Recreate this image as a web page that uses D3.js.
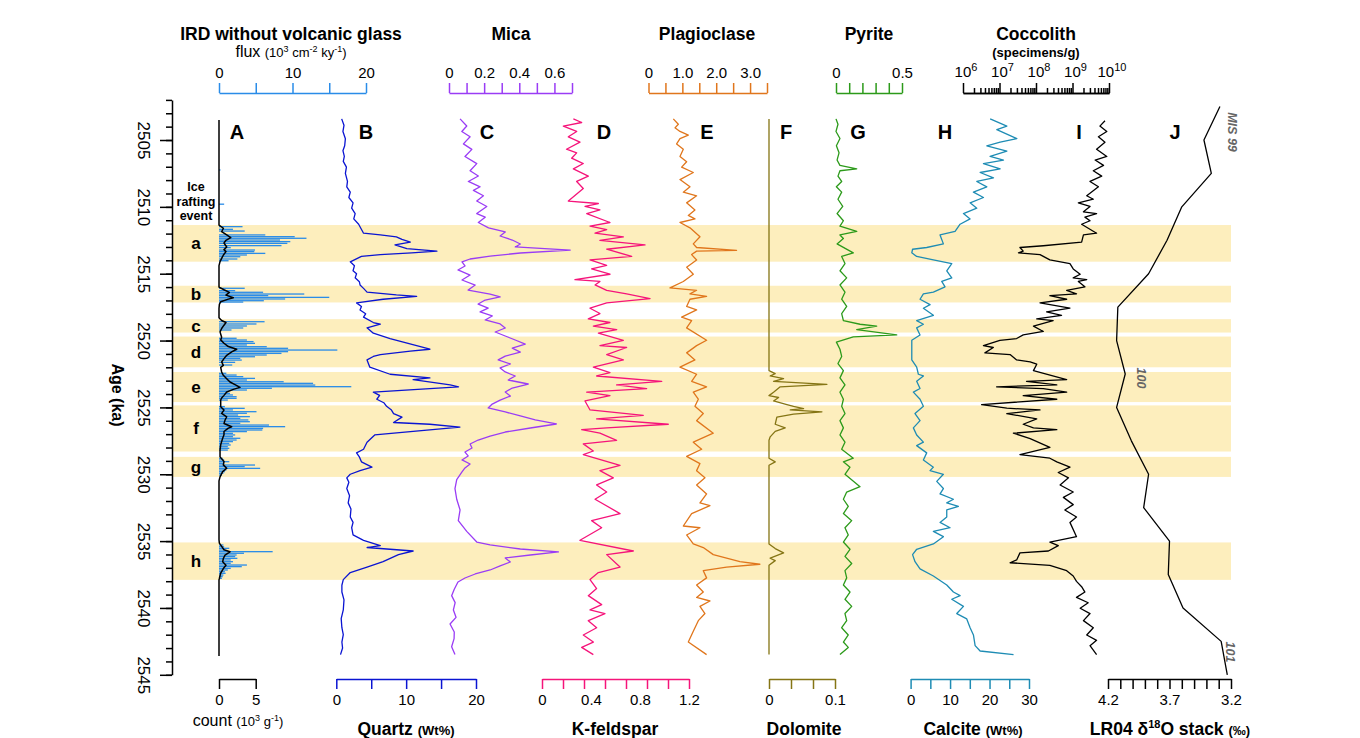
<!DOCTYPE html>
<html>
<head>
<meta charset="utf-8">
<script src="https://cdn.jsdelivr.net/npm/d3@7"></script>
<style>
  body { margin: 0; background: #fff; }
  text { font-family: "Liberation Sans", Arial, Helvetica, sans-serif; }
</style>
</head>
<body>
<div id="chart"></div>
<script>
// ice rafting events (ka)
var eventNames = ["a", "b", "c", "d", "e", "f", "g", "h"];
var eventTop = [2511.36, 2515.9, 2518.4, 2519.7, 2522.35, 2524.85, 2528.7, 2535.1];
var eventBottom = [2514.1, 2517.15, 2519.4, 2522.0, 2524.6, 2528.3, 2530.2, 2537.9];

// A: IRD flux bars (age, 10^3 cm-2 ky-1)
var irdAge = [2507.24, 2509.8,
  2511.48, 2511.68, 2511.81, 2512.1, 2512.23, 2512.35, 2512.48, 2512.6, 2512.73, 2512.9, 2513.05, 2513.23, 2513.35, 2513.48, 2513.6, 2513.73, 2513.9, 2514.03,
  2516.09, 2516.27, 2516.39, 2516.52, 2516.64, 2516.77, 2516.89, 2517.02, 2517.12,
  2518.59, 2518.76, 2518.91, 2519.06, 2519.21,
  2519.83, 2519.96, 2520.08, 2520.21, 2520.33, 2520.46, 2520.58, 2520.71, 2520.83, 2520.96, 2521.08, 2521.21, 2521.33, 2521.46, 2521.63, 2521.83,
  2522.45, 2522.58, 2522.7, 2522.83, 2522.95, 2523.08, 2523.2, 2523.33, 2523.45, 2523.57, 2523.7, 2523.82, 2523.95, 2524.07, 2524.2, 2524.32, 2524.45,
  2524.94, 2525.07, 2525.19, 2525.32, 2525.44, 2525.57, 2525.69, 2525.82, 2525.94, 2526.07, 2526.19, 2526.32, 2526.44, 2526.57, 2526.69, 2526.81, 2526.94, 2527.06, 2527.19, 2527.31, 2527.44, 2527.56, 2527.69, 2527.81, 2527.94, 2528.06, 2528.19,
  2528.81, 2528.93, 2529.06, 2529.18, 2529.31, 2529.43, 2529.56, 2529.68, 2529.81, 2529.93, 2530.06,
  2535.29, 2535.42, 2535.54, 2535.67, 2535.79, 2535.91, 2536.04, 2536.16, 2536.29, 2536.41, 2536.54, 2536.66, 2536.79, 2536.91, 2537.04, 2537.16, 2537.29, 2537.41, 2537.54, 2537.66, 2537.78];
var irdFlux = [0.2, 0.7,
  3.2, 1.9, 3.5, 6.3, 10.3, 11.9, 8.3, 9.7, 9.3, 8.5, 1.6, 4.9, 4.8, 6.3, 3.8, 2.9, 2.5, 1.3,
  3.5, 2.2, 6.0, 11.6, 6.7, 15.0, 9.0, 6.1, 3.3,
  6.2, 5.1, 3.8, 3.3, 1.7,
  2.4, 3.8, 4.7, 4.9, 3.8, 6.5, 9.4, 16.1, 9.4, 8.5, 6.5, 4.9, 2.9, 3.1, 2.2, 1.8,
  1.0, 2.4, 3.3, 4.9, 3.8, 8.8, 12.8, 13.1, 18.0, 7.2, 3.8, 1.2, 1.5, 1.9, 2.4, 2.4, 1.2,
  0.8, 3.5, 1.9, 5.1, 3.8, 2.6, 4.2, 2.9, 4.0, 4.2, 2.9, 6.8, 9.0, 6.0, 5.9, 3.8, 1.9, 2.2, 1.9, 2.9, 2.4, 1.9, 1.4, 1.6, 1.2, 1.4, 1.2,
  0.5, 0.7, 1.4, 0.6, 4.9, 3.5, 5.6, 1.0, 0.8, 0.6, 0.4,
  0.6, 0.7, 1.4, 0.8, 7.3, 3.4, 2.4, 2.2, 2.5, 1.6, 1.9, 1.6, 3.8, 3.1, 1.6, 1.2, 0.8, 0.9, 0.6, 0.5, 0.4];

// A: IRD count (age, 10^3 g-1)
var irdCount = [[2503.5,0],[2511.36,0],[2511.6,0.6],[2511.86,0.36],[2512.1,1.05],[2512.3,1.6],[2512.5,0.95],[2512.7,0.68],[2513.0,1.05],[2513.2,0.68],[2513.35,0.95],[2513.6,0.6],[2513.85,0.36],[2514.1,0.14],[2514.4,0],[2515.8,0],[2516.0,0],[2516.2,0.68],[2516.4,1.41],[2516.6,0.95],[2516.8,1.95],[2516.9,1.27],[2517.1,0.23],[2517.3,0.05],[2517.6,0],[2518.3,0],[2518.5,0.36],[2518.65,0.95],[2518.85,0.68],[2519.1,0.36],[2519.35,0.14],[2519.75,0.36],[2519.95,0.23],[2520.2,0.68],[2520.45,1.27],[2520.65,2.41],[2520.85,1.73],[2521.1,1.05],[2521.35,0.68],[2521.6,0.36],[2521.85,0.59],[2522.0,0.23],[2522.35,0.36],[2522.6,0.59],[2522.85,1.05],[2523.1,1.5],[2523.3,2.18],[2523.5,2.86],[2523.65,1.95],[2523.85,1.05],[2524.1,0.68],[2524.3,0.36],[2524.45,0.23],[2524.95,0.23],[2525.2,0.68],[2525.45,0.36],[2525.7,1.05],[2525.95,0.82],[2526.2,0.68],[2526.45,1.73],[2526.55,1.27],[2526.8,0.68],[2527.05,0.68],[2527.3,0.5],[2527.55,0.36],[2527.8,0.23],[2528.2,0.14],[2528.7,0.14],[2529.05,0.68],[2529.3,0.59],[2529.55,1.05],[2529.8,0.5],[2530.2,0.14],[2530.5,0],[2534.9,0],[2535.15,0.05],[2535.4,0.36],[2535.65,0.68],[2535.8,1.5],[2536.05,0.82],[2536.3,0.59],[2536.55,0.5],[2536.8,0.95],[2537.05,0.59],[2537.4,0.23],[2537.8,0.05],[2537.9,0],[2543.6,0]];

// B: quartz (wt%)
var quartz = [[2503.42,0.77],[2503.9,1.1],[2504.36,0.95],[2504.9,1.3],[2505.43,1.2],[2505.8,0.95],[2506.23,1.15],[2506.6,1.0],[2507.03,1.45],[2507.5,1.3],[2508.1,1.6],[2508.5,1.5],[2508.9,2.0],[2509.3,1.8],[2509.7,2.4],[2510.1,2.2],[2510.5,2.7],[2510.9,2.5],[2511.3,3.2],[2511.97,3.9],[2512.1,6.3],[2512.24,8.6],[2512.43,9.4],[2512.64,10.6],[2512.85,8.4],[2513.12,10.1],[2513.31,14.4],[2513.44,10.8],[2513.57,6.3],[2513.71,3.6],[2514.11,2.0],[2514.4,2.6],[2514.78,2.4],[2515.0,2.9],[2515.31,2.7],[2515.6,3.3],[2515.84,3.4],[2516.1,3.9],[2516.38,4.4],[2516.59,8.6],[2516.7,11.5],[2516.91,6.7],[2517.18,2.9],[2517.45,3.6],[2517.71,3.4],[2518.0,4.2],[2518.25,3.9],[2518.65,5.3],[2518.78,6.3],[2519.05,4.4],[2519.45,5.3],[2519.85,7.7],[2520.12,9.6],[2520.65,13.4],[2520.79,10.6],[2521.05,6.3],[2521.19,5.3],[2521.45,4.4],[2521.99,4.8],[2522.52,7.7],[2522.79,13.4],[2522.92,11.0],[2523.32,16.3],[2523.46,17.5],[2523.59,13.4],[2523.86,5.3],[2524.1,6.2],[2524.39,5.8],[2524.65,6.8],[2524.92,7.2],[2525.2,7.9],[2525.46,8.2],[2525.73,9.4],[2526.13,8.2],[2526.26,13.4],[2526.47,17.7],[2526.79,11.0],[2527.06,5.5],[2527.6,4.4],[2528.13,3.9],[2528.4,2.9],[2528.7,3.3],[2529.07,3.6],[2529.47,5.1],[2529.73,3.4],[2530.0,2.0],[2530.27,1.5],[2530.6,1.8],[2531.07,1.5],[2531.6,1.9],[2532.14,1.7],[2532.6,2.1],[2533.2,2.0],[2533.6,2.4],[2534.0,2.2],[2534.54,2.4],[2534.94,3.9],[2535.34,6.3],[2535.48,4.4],[2535.74,11.0],[2536.01,8.9],[2536.54,6.7],[2536.94,4.4],[2537.35,2.0],[2537.88,1.0],[2538.3,0.8],[2538.81,0.8],[2539.4,1.1],[2540.15,1.0],[2540.8,0.7],[2541.48,0.8],[2542.0,1.0],[2542.55,0.8],[2543.0,0.9],[2543.49,0.6]];

// C: mica
var mica = [[2503.42,0.063],[2503.95,0.101],[2504.36,0.073],[2504.76,0.12],[2505.29,0.082],[2505.7,0.13],[2506.23,0.091],[2506.77,0.158],[2507.3,0.12],[2507.69,0.167],[2508.1,0.11],[2508.5,0.177],[2508.77,0.139],[2509.17,0.196],[2509.56,0.158],[2509.97,0.215],[2510.5,0.158],[2510.77,0.206],[2511.17,0.167],[2511.57,0.225],[2511.88,0.32],[2512.18,0.291],[2512.48,0.36],[2512.78,0.406],[2513.0,0.377],[2513.23,0.69],[2513.45,0.406],[2513.68,0.234],[2513.9,0.12],[2514.12,0.074],[2514.42,0.091],[2514.72,0.051],[2515.1,0.12],[2515.47,0.074],[2515.85,0.149],[2516.22,0.109],[2516.52,0.234],[2516.74,0.291],[2516.97,0.206],[2517.27,0.166],[2517.57,0.223],[2517.86,0.177],[2518.16,0.246],[2518.46,0.206],[2518.76,0.291],[2519.06,0.32],[2519.36,0.263],[2519.66,0.32],[2519.96,0.377],[2520.26,0.434],[2520.56,0.36],[2520.86,0.406],[2521.16,0.32],[2521.45,0.28],[2521.75,0.349],[2522.05,0.291],[2522.35,0.32],[2522.65,0.377],[2522.95,0.337],[2523.25,0.451],[2523.55,0.36],[2523.85,0.32],[2524.15,0.349],[2524.45,0.291],[2524.75,0.246],[2525.04,0.223],[2525.34,0.32],[2525.64,0.406],[2525.94,0.491],[2526.24,0.611],[2526.54,0.463],[2526.84,0.32],[2527.14,0.234],[2527.44,0.166],[2527.74,0.12],[2528.04,0.131],[2528.34,0.091],[2528.63,0.109],[2528.93,0.074],[2529.23,0.12],[2529.53,0.091],[2529.83,0.074],[2530.4,0.044],[2531.07,0.034],[2531.87,0.044],[2532.67,0.063],[2533.47,0.053],[2534.27,0.101],[2535.07,0.158],[2535.29,0.234],[2535.59,0.406],[2535.81,0.623],[2536.04,0.463],[2536.26,0.32],[2536.56,0.349],[2536.86,0.291],[2537.16,0.234],[2537.46,0.149],[2537.76,0.091],[2538.06,0.051],[2538.6,0.03],[2539.08,0.015],[2539.6,0.035],[2540.15,0.025],[2540.7,0.04],[2541.2,0.006],[2541.8,0.03],[2542.29,0.029],[2542.9,0.015],[2543.49,0.034]];

// D: K-feldspar
var kfeldspar = [[2503.42,0.256],[2503.69,0.324],[2503.96,0.174],[2504.36,0.283],[2504.76,0.215],[2505.16,0.31],[2505.69,0.2],[2505.96,0.283],[2506.36,0.242],[2506.76,0.337],[2507.16,0.256],[2507.7,0.378],[2508.1,0.283],[2508.63,0.337],[2509.57,0.215],[2509.75,0.46],[2509.97,0.351],[2510.23,0.473],[2510.5,0.365],[2511.17,0.555],[2511.44,0.392],[2511.7,0.528],[2511.97,0.433],[2512.24,0.664],[2512.5,0.473],[2512.85,0.841],[2513.17,0.528],[2513.71,0.732],[2513.97,0.392],[2514.37,0.528],[2514.64,0.405],[2515.04,0.555],[2515.44,0.269],[2515.58,0.473],[2515.84,0.433],[2516.24,0.528],[2516.51,0.691],[2516.86,0.882],[2517.18,0.528],[2517.58,0.392],[2517.98,0.473],[2518.38,0.378],[2518.65,0.555],[2518.92,0.419],[2519.18,0.61],[2519.45,0.46],[2519.98,0.664],[2520.38,0.473],[2520.52,0.691],[2521.05,0.528],[2521.45,0.664],[2521.99,0.419],[2522.39,0.555],[2522.65,0.446],[2523.05,0.977],[2523.32,0.609],[2523.59,0.854],[2523.86,0.365],[2524.12,0.555],[2524.52,0.351],[2525.19,0.392],[2525.59,0.827],[2525.86,0.446],[2526.26,1.031],[2526.53,0.528],[2526.66,0.324],[2526.93,0.473],[2527.46,0.609],[2527.73,0.337],[2528.26,0.419],[2528.53,0.337],[2529.33,0.637],[2529.73,0.473],[2530.27,0.582],[2530.8,0.446],[2531.33,0.528],[2531.87,0.433],[2532.94,0.637],[2533.47,0.405],[2534.0,0.487],[2534.94,0.31],[2535.74,0.746],[2536.01,0.528],[2536.94,0.637],[2537.35,0.46],[2537.88,0.392],[2538.55,0.446],[2539.08,0.378],[2539.75,0.487],[2540.15,0.392],[2540.42,0.514],[2540.95,0.378],[2541.48,0.446],[2542.02,0.337],[2542.55,0.419],[2542.95,0.324],[2543.49,0.419]];

// E: plagioclase
var plagioclase = [[2503.42,0.733],[2503.82,0.881],[2504.09,0.782],[2504.36,0.93],[2504.63,1.176],[2504.89,0.93],[2505.29,0.831],[2505.69,1.028],[2506.23,0.93],[2506.63,1.126],[2507.03,0.979],[2507.43,1.323],[2507.96,0.93],[2508.5,1.225],[2508.9,1.028],[2509.17,1.421],[2509.7,1.126],[2510.23,1.372],[2510.64,1.176],[2510.9,1.372],[2511.17,0.93],[2511.57,1.225],[2512.24,1.52],[2512.77,1.323],[2513.04,1.421],[2513.25,2.601],[2513.31,1.421],[2513.57,1.274],[2513.97,1.421],[2514.51,1.126],[2515.04,1.323],[2515.58,1.028],[2516.06,0.635],[2516.24,1.421],[2516.51,1.225],[2516.7,1.716],[2516.91,1.225],[2517.45,1.126],[2517.71,1.421],[2518.25,0.979],[2518.51,1.274],[2519.05,1.126],[2519.98,1.716],[2520.38,1.421],[2520.92,1.126],[2521.45,1.372],[2521.99,0.93],[2522.52,1.421],[2523.05,1.274],[2523.46,1.716],[2523.86,1.323],[2524.39,1.471],[2524.92,1.372],[2525.46,1.618],[2525.99,1.421],[2526.93,1.913],[2527.6,1.323],[2528.13,1.569],[2528.66,1.126],[2529.2,1.52],[2529.73,1.421],[2530.27,1.667],[2530.8,1.421],[2531.47,1.716],[2532.14,1.52],[2532.35,1.815],[2532.94,1.274],[2533.87,1.028],[2534.0,1.52],[2534.54,1.126],[2535.21,1.323],[2535.48,1.618],[2536.01,1.913],[2536.54,2.7],[2536.73,3.29],[2536.94,2.306],[2537.21,1.618],[2537.75,1.716],[2538.28,1.421],[2538.81,1.618],[2539.21,1.421],[2539.48,1.815],[2539.88,1.52],[2540.42,1.667],[2540.95,1.471],[2541.75,1.323],[2542.55,1.176],[2543.49,1.716]];

// F: dolomite
var dolomite = [[2503.42,0],[2522.25,0],[2522.47,0.0094],[2522.65,0.0018],[2522.84,0.0221],[2523.05,0.0069],[2523.27,0.0878],[2523.46,0.017],[2523.86,0.0069],[2524.12,0],[2524.26,0.0145],[2524.52,0.0069],[2524.79,0.0271],[2524.93,0.0372],[2525.09,0.0524],[2525.19,0.0322],[2525.33,0.0802],[2525.51,0.0372],[2525.73,0.0119],[2526.26,0.0094],[2526.53,0.0246],[2526.79,0.0094],[2527.2,0.0018],[2527.46,0],[2528.8,0],[2529.07,0.0094],[2529.33,0],[2535.21,0],[2535.56,0.0094],[2535.88,0.0221],[2536.28,0.0018],[2536.46,0.0094],[2536.81,0],[2543.49,0]];

// G: pyrite
var pyrite = [[2503.42,0.0],[2503.82,0.015],[2504.36,0.0],[2504.89,0.03],[2505.43,0.003],[2505.96,0.023],[2506.5,0.008],[2506.9,0.03],[2507.16,0.157],[2507.3,0.03],[2507.7,0.015],[2508.1,0.043],[2508.5,0.003],[2508.9,0.043],[2509.43,0.015],[2509.97,0.051],[2510.5,0.008],[2511.04,0.056],[2511.44,0.03],[2511.84,0.157],[2512.1,0.03],[2512.37,0.056],[2512.77,0.008],[2513.44,0.131],[2513.71,0.043],[2514.24,0.068],[2514.78,0.03],[2515.31,0.081],[2515.84,0.03],[2516.38,0.068],[2516.91,0.043],[2517.45,0.081],[2517.98,0.043],[2518.51,0.056],[2518.78,0.182],[2518.92,0.308],[2519.18,0.157],[2519.58,0.46],[2519.72,0.131],[2520.12,0.003],[2520.65,0.03],[2521.19,0.043],[2521.72,0.015],[2522.25,0.056],[2522.79,0.03],[2523.32,0.068],[2523.86,0.03],[2524.39,0.056],[2524.92,0.043],[2525.46,0.068],[2525.99,0.03],[2526.53,0.056],[2527.06,0.03],[2527.6,0.068],[2528.13,0.043],[2528.8,0.131],[2529.07,0.056],[2529.47,0.106],[2530.0,0.068],[2530.93,0.182],[2531.33,0.081],[2531.87,0.056],[2532.4,0.093],[2532.94,0.056],[2533.47,0.119],[2534.0,0.068],[2534.54,0.093],[2535.07,0.056],[2535.61,0.106],[2536.14,0.068],[2536.68,0.119],[2537.21,0.068],[2537.75,0.081],[2538.28,0.056],[2538.81,0.106],[2539.35,0.068],[2539.88,0.119],[2540.42,0.068],[2540.95,0.081],[2541.48,0.043],[2542.02,0.093],[2542.55,0.056],[2542.95,0.093],[2543.49,0.03]];

// H: calcite (wt%)
var calcite = [[2503.42,20.15],[2503.96,24.39],[2504.23,21.85],[2504.89,26.92],[2505.16,22.69],[2505.43,19.31],[2505.83,24.39],[2506.23,20.15],[2506.5,23.54],[2506.76,18.46],[2507.16,22.69],[2507.43,17.62],[2507.83,21.0],[2508.1,16.77],[2508.5,19.31],[2508.9,15.92],[2509.3,18.46],[2509.7,15.08],[2510.1,16.77],[2510.5,13.39],[2510.9,15.08],[2511.3,12.54],[2511.84,11.27],[2512.1,7.46],[2512.77,8.31],[2513.04,4.08],[2513.17,0.5],[2513.44,0.3],[2513.71,1.54],[2513.97,5.77],[2514.24,10.43],[2514.78,9.16],[2515.31,10.43],[2515.58,7.89],[2515.98,8.73],[2516.38,5.77],[2516.51,3.24],[2516.91,2.39],[2517.31,4.93],[2517.58,3.24],[2518.11,5.77],[2518.51,1.54],[2518.78,3.24],[2519.05,1.54],[2519.58,2.39],[2519.98,0.3],[2521.45,0.3],[2521.99,1.54],[2522.52,1.97],[2522.65,3.24],[2523.05,1.54],[2523.59,2.39],[2523.86,0.7],[2524.39,2.39],[2524.92,3.24],[2525.46,1.12],[2525.99,2.39],[2526.53,0.7],[2527.06,1.54],[2527.6,3.24],[2527.86,1.54],[2528.4,4.08],[2528.93,3.24],[2529.47,5.77],[2529.73,4.93],[2530.0,8.31],[2530.53,6.62],[2531.07,8.31],[2531.47,7.46],[2531.87,10.85],[2532.14,9.16],[2532.4,12.12],[2532.67,9.16],[2533.2,9.16],[2533.6,7.46],[2534.0,10.0],[2534.27,5.77],[2534.67,8.31],[2535.21,5.77],[2535.61,1.54],[2536.01,0.5],[2536.54,1.12],[2537.08,2.39],[2537.61,5.77],[2538.28,9.16],[2538.81,10.85],[2539.08,12.54],[2539.35,10.43],[2539.88,13.39],[2540.42,11.7],[2540.82,14.23],[2541.48,15.08],[2542.02,15.92],[2542.82,16.35],[2543.22,17.62],[2543.49,26.08]];

// I: coccolith abundance, log10(specimens/g)
var coccolithLog10 = [[2503.56,9.89],[2503.96,9.75],[2504.36,9.94],[2504.76,9.71],[2505.16,9.89],[2505.69,9.66],[2506.23,9.94],[2506.5,9.62],[2506.9,9.85],[2507.3,9.57],[2507.7,9.8],[2508.1,9.48],[2508.5,9.71],[2509.17,9.39],[2509.43,9.57],[2509.7,9.16],[2509.97,9.48],[2510.37,9.3],[2510.5,9.66],[2510.77,9.34],[2511.04,9.48],[2511.3,9.25],[2511.97,9.66],[2512.1,9.3],[2512.64,9.25],[2512.91,8.2],[2513.04,7.56],[2513.31,7.65],[2513.44,7.52],[2513.57,8.11],[2513.97,8.38],[2514.24,8.93],[2514.64,9.02],[2515.04,9.21],[2515.31,9.02],[2515.44,9.39],[2515.58,9.16],[2515.98,9.34],[2516.24,8.84],[2516.51,9.11],[2516.64,8.38],[2516.91,8.84],[2517.18,8.11],[2517.58,8.93],[2517.85,8.29],[2518.11,8.7],[2518.38,8.02],[2518.51,8.47],[2518.92,7.93],[2519.32,8.2],[2519.58,7.65],[2519.85,7.47],[2519.98,7.01],[2520.38,6.56],[2520.52,6.83],[2520.92,6.6],[2521.05,7.29],[2521.45,7.47],[2521.59,7.84],[2521.77,8.02],[2522.25,7.93],[2522.92,8.84],[2523.05,7.74],[2523.32,8.57],[2523.46,6.92],[2523.59,8.2],[2523.86,8.84],[2524.12,7.65],[2524.39,8.57],[2524.79,6.51],[2525.06,7.2],[2525.19,8.11],[2525.46,7.2],[2525.86,8.02],[2526.26,7.65],[2526.53,7.93],[2526.66,8.57],[2526.93,7.38],[2527.33,7.84],[2527.99,8.38],[2528.53,7.56],[2528.8,8.38],[2529.07,8.57],[2529.47,8.93],[2529.87,8.61],[2530.27,8.89],[2530.8,8.66],[2531.33,9.02],[2531.73,8.75],[2532.27,9.02],[2532.67,8.79],[2533.2,9.11],[2533.6,8.93],[2534.67,9.11],[2535.07,8.38],[2535.34,8.61],[2535.74,8.34],[2535.88,7.56],[2536.41,7.47],[2536.62,7.29],[2536.81,8.38],[2537.21,8.84],[2537.61,9.02],[2538.01,9.11],[2538.41,9.25],[2538.81,9.34],[2539.21,9.11],[2539.61,9.43],[2540.02,9.21],[2540.42,9.48],[2540.95,9.3],[2541.48,9.57],[2542.02,9.39],[2542.42,9.66],[2542.82,9.48],[2543.49,9.66]];

// J: LR04 benthic d18O stack (permil)
var lr04Age = [2502.5, 2505, 2507.5, 2510, 2512.5, 2515, 2517.5, 2520, 2522.5, 2525, 2527.5, 2530, 2532.5, 2535, 2537.5, 2540, 2542.5, 2545];
var lr04Value = [3.29, 3.42, 3.36, 3.60, 3.72, 3.87, 4.12, 4.13, 4.06, 4.13, 4.01, 3.87, 3.91, 3.70, 3.71, 3.59, 3.28, 3.23];

var panelLetters = ["A", "B", "C", "D", "E", "F", "G", "H", "I", "J"];
var panelLetterX = [237, 366, 487, 604, 707, 786, 858, 945, 1079, 1175];

var width = 1360;
var height = 738;
var svg = d3.select("#chart").append("svg")
  .attr("width", width).attr("height", height);

var y = d3.scaleLinear().domain([2502, 2545]).range([99.9, 674.8]);

// x scales of each panel
var xFlux = d3.scaleLinear().domain([0, 20]).range([219, 366]);
var xCount = d3.scaleLinear().domain([0, 5]).range([219, 255.7]);
var xQuartz = d3.scaleLinear().domain([0, 20]).range([336.3, 476]);
var xMica = d3.scaleLinear().domain([0, 0.7]).range([449, 572]);
var xKfs = d3.scaleLinear().domain([0, 1.2]).range([542, 689]);
var xPlag = d3.scaleLinear().domain([0, 3.5]).range([648.5, 767]);
var xDol = d3.scaleLinear().domain([0, 0.1]).range([769, 835]);
var xPyr = d3.scaleLinear().domain([0, 0.5]).range([836, 902]);
var xCalc = d3.scaleLinear().domain([0, 30]).range([910.6, 1029]);
var xCocco = d3.scaleLog().domain([1e6, 1e10]).range([963, 1109]);
var xLr04 = d3.scaleLinear().domain([4.2, 3.2]).range([1108, 1231]);

var bandColor = "#fdeebd";

// event bands
svg.append("g").selectAll("rect")
  .data(eventNames)
  .enter().append("rect")
  .attr("x", 172)
  .attr("width", 1231 - 172)
  .attr("y", function(d, i) { return y(eventTop[i]); })
  .attr("height", function(d, i) { return y(eventBottom[i]) - y(eventTop[i]); })
  .attr("fill", bandColor);

svg.append("g").selectAll("text")
  .data(eventNames)
  .enter().append("text")
  .attr("x", 196)
  .attr("y", function(d, i) { return (y(eventTop[i]) + y(eventBottom[i])) / 2 + 6; })
  .attr("text-anchor", "middle")
  .style("font-size", "17px").style("font-weight", "bold")
  .text(function(d) { return d; });

["Ice", "rafting", "event"].forEach(function(t, i) {
  svg.append("text")
    .attr("x", 196).attr("y", 191 + i * 14.5)
    .attr("text-anchor", "middle")
    .style("font-size", "12.5px").style("font-weight", "bold")
    .text(t);
});

// age axis
var ageMinor = svg.append("g").attr("transform", "translate(172,0)")
  .call(d3.axisLeft(y).tickValues(d3.range(2502, 2546)).tickSize(6).tickSizeOuter(0).tickFormat(""));
var ageMajor = svg.append("g").attr("transform", "translate(172,0)")
  .call(d3.axisLeft(y).tickValues(d3.range(2505, 2546, 5)).tickSize(12).tickSizeOuter(0).tickFormat(d3.format("d")));
ageMajor.select(".domain").remove();
ageMajor.selectAll(".tick text")
  .attr("x", null).attr("dy", null)
  .attr("text-anchor", "middle")
  .attr("transform", "translate(-34,0) rotate(90)")
  .style("font-size", "17px");
[ageMinor, ageMajor].forEach(function(g) {
  g.selectAll("path, line").attr("stroke", "#000").attr("stroke-width", 1.5);
});

svg.append("text")
  .attr("transform", "translate(112,395) rotate(90)")
  .attr("text-anchor", "middle")
  .style("font-size", "16px").style("font-weight", "bold")
  .text("Age (ka)");

// IRD flux bars
svg.append("g").selectAll("rect")
  .data(irdFlux)
  .enter().append("rect")
  .attr("x", xFlux(0))
  .attr("y", function(d, i) { return y(irdAge[i]) - 0.65; })
  .attr("width", function(d) { return xFlux(d) - xFlux(0); })
  .attr("height", 1.3)
  .attr("fill", "#2a8ce8");

function curve(data, xs, color, strokeWidth) {
  var gen = d3.line()
    .x(function(d) { return xs(d[1]); })
    .y(function(d) { return y(d[0]); });
  svg.append("path")
    .datum(data)
    .attr("d", gen)
    .attr("fill", "none")
    .attr("stroke", color)
    .attr("stroke-width", strokeWidth || 1.3)
    .attr("stroke-linejoin", "round");
}

curve(irdCount, xCount, "#000", 1.5);
curve(quartz, xQuartz, "#0a14d2");
curve(mica, xMica, "#9a3cf5");
curve(kfeldspar, xKfs, "#f5147a");
curve(plagioclase, xPlag, "#e0761c");
curve(dolomite, xDol, "#857515");
curve(pyrite, xPyr, "#2c9a1a");
curve(calcite, xCalc, "#1e8cb4");
curve(coccolithLog10.map(function(d) { return [d[0], Math.pow(10, d[1])]; }), xCocco, "#000");
curve(lr04Age.map(function(a, i) { return [a, lr04Value[i]]; }), xLr04, "#000");

// panel letters
svg.append("g").selectAll("text")
  .data(panelLetters)
  .enter().append("text")
  .attr("x", function(d, i) { return panelLetterX[i]; })
  .attr("y", 139)
  .attr("text-anchor", "middle")
  .style("font-size", "20px").style("font-weight", "bold")
  .text(function(d) { return d; });

// MIS labels
[["MIS 99", 1233, 132], ["100", 1142, 378], ["101", 1231, 652]].forEach(function(m) {
  svg.append("text")
    .attr("transform", "translate(" + (m[1] - 5) + "," + m[2] + ") rotate(90)")
    .attr("text-anchor", "middle")
    .style("font-size", "12.5px").style("font-weight", "bold").style("font-style", "italic")
    .attr("fill", "#666")
    .text(m[0]);
});

// value axes
function valueAxis(scale, side, ypos, ticks, labels, color, fmt, tickLen) {
  var ax = side === "top" ? d3.axisTop(scale) : d3.axisBottom(scale);
  ax.tickValues(ticks).tickSize(tickLen === undefined ? 10 : tickLen).tickSizeOuter(0).tickPadding(5)
    .tickFormat(function(d) {
      var hit = labels.some(function(l) { return Math.abs(l - d) < 1e-9; });
      return hit ? fmt(d) : "";
    });
  var g = svg.append("g").attr("transform", "translate(0," + ypos + ")").call(ax);
  g.selectAll("path, line").attr("stroke", color).attr("stroke-width", 1.5);
  g.selectAll("text").attr("fill", "#000").style("font-size", "15px").attr("font-family", null);
  return g;
}

var topY = 93;
var bottomY = 679;
var fmt0 = function(d) { return String(d); };
var fmt1 = d3.format(".1f");

valueAxis(xFlux, "top", topY, [0, 5, 10, 15, 20], [0, 10, 20], "#2a8ce8", fmt0);
valueAxis(xMica, "top", topY, d3.range(0, 0.71, 0.1), [0, 0.2, 0.4, 0.6],
  "#9a3cf5", function(d) { return d === 0 ? "0" : fmt1(d); });
valueAxis(xPlag, "top", topY, d3.range(0, 3.51, 0.5), [0, 1, 2, 3],
  "#e0761c", function(d) { return d === 0 ? "0" : fmt1(d); });
valueAxis(xPyr, "top", topY, d3.range(0, 0.51, 0.1), [0, 0.5],
  "#2c9a1a", function(d) { return d === 0 ? "0" : fmt1(d); });

// coccolith log axis
var decades = [1e6, 1e7, 1e8, 1e9, 1e10];
var minorLog = [];
decades.slice(0, 4).forEach(function(dec) {
  d3.range(2, 10).forEach(function(k) { minorLog.push(dec * k); });
});
valueAxis(xCocco, "top", topY, minorLog, [], "#000", fmt0, 5);
valueAxis(xCocco, "top", topY, decades, [], "#000", fmt0, 10);
decades.forEach(function(d) {
  var t = svg.append("text")
    .attr("x", xCocco(d) + 3).attr("y", topY - 16)
    .attr("text-anchor", "middle")
    .style("font-size", "15px");
  t.append("tspan").text("10");
  t.append("tspan").attr("dy", -6).style("font-size", "11px").text(Math.round(Math.log10(d)));
});

valueAxis(xCount, "bottom", bottomY, [0, 5], [0, 5], "#000", fmt0);
valueAxis(xQuartz, "bottom", bottomY, [0, 5, 10, 15, 20], [0, 10, 20], "#0a14d2", fmt0);
valueAxis(xKfs, "bottom", bottomY, d3.range(8).map(function(i) { return i * 1.2 / 7; }), [], "#f5147a", fmt0);
valueAxis(xKfs, "bottom", bottomY + 10, [0, 0.4, 0.8, 1.2], [0, 0.4, 0.8, 1.2], "#f5147a",
  function(d) { return d === 0 ? "0" : fmt1(d); }, 0).select(".domain").remove();
valueAxis(xDol, "bottom", bottomY, [0, 0.1 / 3, 0.2 / 3, 0.1], [0, 0.1], "#857515",
  function(d) { return d === 0 ? "0" : fmt1(d); });
valueAxis(xCalc, "bottom", bottomY, d3.range(0, 31, 5), [0, 10, 20, 30], "#1e8cb4", fmt0);
valueAxis(xLr04, "bottom", bottomY, d3.range(0, 11).map(function(i) { return 4.2 - i * 0.1; }),
  [4.2, 3.7, 3.2], "#000", fmt1);

// titles
function title(x, yy, parts, anchor) {
  var t = svg.append("text").attr("x", x).attr("y", yy).attr("text-anchor", anchor || "middle");
  parts.forEach(function(p) {
    var s = t.append("tspan").text(p.text)
      .style("font-size", p.size + "px")
      .style("font-weight", p.bold ? "bold" : "normal");
    if (p.dy) s.attr("dy", p.dy);
  });
  return t;
}

title(291, 40, [{ text: "IRD without volcanic glass", size: 17.5, bold: true }]);
title(291, 57, [
  { text: "flux ", size: 16 }, { text: "(10", size: 13 }, { text: "3", size: 9, dy: -5 },
  { text: " cm", size: 13, dy: 5 }, { text: "-2", size: 9, dy: -5 },
  { text: " ky", size: 13, dy: 5 }, { text: "-1", size: 9, dy: -5 }, { text: ")", size: 13, dy: 5 }
]);
title(511, 40, [{ text: "Mica", size: 17.5, bold: true }]);
title(707, 40, [{ text: "Plagioclase", size: 17.5, bold: true }]);
title(869, 40, [{ text: "Pyrite", size: 17.5, bold: true }]);
title(1036, 40, [{ text: "Coccolith", size: 17.5, bold: true }]);
title(1036, 57, [{ text: "(specimens/g)", size: 13, bold: true }]);

title(238, 726, [
  { text: "count ", size: 16 }, { text: "(10", size: 13 }, { text: "3", size: 9, dy: -5 },
  { text: " g", size: 13, dy: 5 }, { text: "-1", size: 9, dy: -5 }, { text: ")", size: 13, dy: 5 }
]);
title(406, 735, [{ text: "Quartz ", size: 17.5, bold: true }, { text: "(Wt%)", size: 13, bold: true }]);
title(615, 735, [{ text: "K-feldspar", size: 17.5, bold: true }]);
title(804, 735, [{ text: "Dolomite", size: 17.5, bold: true }]);
title(973, 735, [{ text: "Calcite ", size: 17.5, bold: true }, { text: "(Wt%)", size: 13, bold: true }]);
title(1170, 735, [
  { text: "LR04 \u03b4", size: 17.5, bold: true }, { text: "18", size: 11, bold: true, dy: -7 },
  { text: "O stack ", size: 17.5, bold: true, dy: 7 }, { text: "(\u2030)", size: 13, bold: true }
]);
</script>
</body>
</html>
